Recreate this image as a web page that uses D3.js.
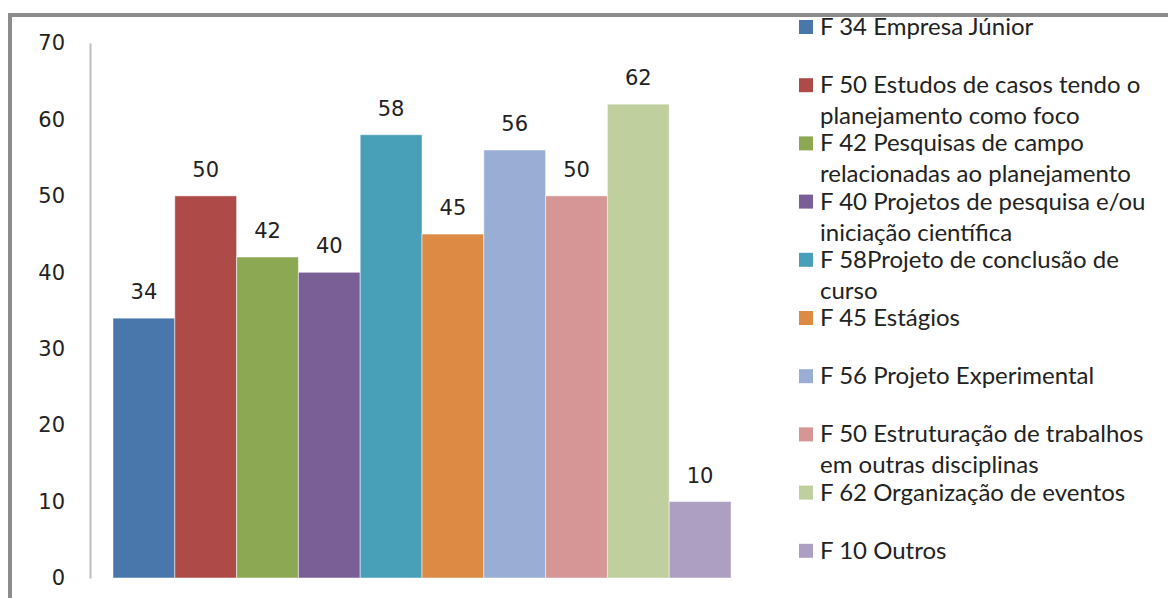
<!DOCTYPE html>
<html>
<head>
<meta charset="utf-8">
<script src="https://d3js.org/d3.v7.min.js"></script>
<style>
  body { margin: 0; background: #fff; }
  svg { display: block; }
</style>
</head>
<body>
<svg id="chart" width="1168" height="598"></svg>
<script>
// values
var values = [34, 50, 42, 40, 58, 45, 56, 50, 62, 10];
var labels = [
  ["F 34 Empresa Júnior"],
  ["F 50 Estudos de casos tendo o", "planejamento como foco"],
  ["F 42 Pesquisas de campo", "relacionadas ao planejamento"],
  ["F 40 Projetos de pesquisa e/ou", "iniciação científica"],
  ["F 58Projeto de conclusão de", "curso"],
  ["F 45 Estágios"],
  ["F 56 Projeto Experimental"],
  ["F 50 Estruturação de trabalhos", "em outras disciplinas"],
  ["F 62 Organização de eventos"],
  ["F 10 Outros"]
];
var colors = ["#4a77ab", "#ae4b49", "#8da853", "#7a5f96", "#47a0b7",
              "#dd8a45", "#9aaed5", "#d59695", "#bfd09e", "#ad9fc2"];
var yTicks = [0, 10, 20, 30, 40, 50, 60, 70];

var svg = d3.select("#chart");

// outer frame (clipped by the picture at right and bottom)
svg.append("rect")
  .attr("x", 10).attr("y", 15)
  .attr("width", 1200).attr("height", 640)
  .attr("fill", "none")
  .attr("stroke", "#8c8c8c")
  .attr("stroke-width", 4);

var y = d3.scaleLinear().domain([0, 70]).range([578, 43]);
var x = d3.scaleBand().domain(d3.range(values.length)).range([113, 731]).padding(0);

// y axis
var yAxis = svg.append("g")
  .attr("transform", "translate(90,0)")
  .call(d3.axisLeft(y).tickValues(yTicks).tickSize(0).tickPadding(25));
yAxis.select(".domain").attr("stroke", "#bdbdbd").attr("stroke-width", 2);
yAxis.selectAll("text")
  .attr("font-family", "DejaVu Sans")
  .attr("font-size", 21)
  .attr("fill", "#222");

// bars
svg.selectAll(".bar")
  .data(values)
  .enter().append("rect")
  .attr("class", "bar")
  .attr("x", function(d, i) { return x(i); })
  .attr("y", function(d) { return y(d); })
  .attr("width", x.bandwidth())
  .attr("height", function(d) { return y(0) - y(d); })
  .attr("fill", function(d, i) { return colors[i]; })
  .attr("stroke", "rgba(255,255,255,0.5)")
  .attr("stroke-width", 1);

// value labels
svg.selectAll(".val")
  .data(values)
  .enter().append("text")
  .attr("class", "val")
  .attr("x", function(d, i) { return x(i) + x.bandwidth() / 2; })
  .attr("y", function(d) { return y(d) - 19; })
  .attr("text-anchor", "middle")
  .attr("font-family", "DejaVu Sans")
  .attr("font-size", 21)
  .attr("fill", "#222")
  .text(function(d) { return d; });

// legend
var leg = svg.selectAll(".leg")
  .data(labels)
  .enter().append("g")
  .attr("class", "leg")
  .attr("transform", function(d, i) { return "translate(799," + (27 + i * 58.2) + ")"; });

leg.append("rect")
  .attr("x", 0).attr("y", -7)
  .attr("width", 14).attr("height", 14)
  .attr("fill", function(d, i) { return colors[i]; });

leg.append("text")
  .attr("x", 21)
  .attr("font-family", "Lato")
  .attr("font-size", 24)
  .attr("fill", "#222")
  .selectAll("tspan")
  .data(function(d) { return d; })
  .enter().append("tspan")
  .attr("x", 21)
  .attr("y", function(d, j) { return j * 31 + 8; })
  .text(function(d) { return d; });
</script>
</body>
</html>
